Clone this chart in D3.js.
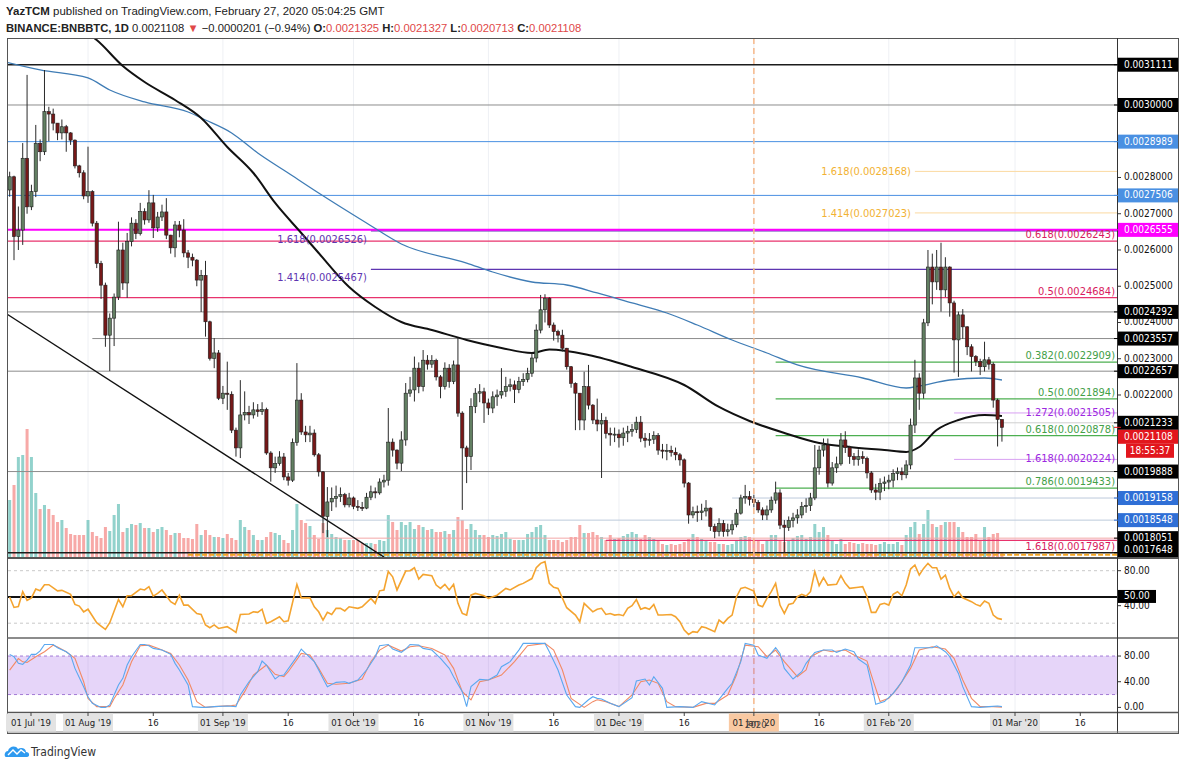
<!DOCTYPE html>
<html>
<head>
<meta charset="utf-8">
<script src="https://cdn.jsdelivr.net/npm/d3@7"></script>
<style>
body{margin:0;background:#fff;}
svg text{font-family:"Liberation Sans Narrow","DejaVu Sans Condensed","Liberation Sans",Arial,sans-serif;}
svg text.hd{font-family:"Liberation Sans",Arial,sans-serif;}
</style>
</head>
<body>
<svg id="chart" width="1180" height="768"></svg>
<script>
// daily candles BNBBTC, first candle 2019-07-14, prices in 1e-7 BTC, open = previous close
var startDate = "2019-07-14";
var firstOpen = 27655;
var closes = [28020,26370,26550,28530,27190,27610,28940,28710,29815,29750,29500,29230,29400,29230,29030,28320,28130,27490,27610,26740,
25630,25030,23650,24120,24700,26000,25090,26230,26740,26450,27060,26830,27300,26610,26910,27050,26410,26060,26690,26550,
25920,25800,25720,25170,25300,24020,23010,23160,21910,22050,22020,21030,20540,21450,21520,21450,21590,21540,21600,20400,
19990,20110,20290,19740,19650,20690,21860,20980,20900,20950,20350,19880,18650,19050,19150,19200,19250,18970,19160,18930,
18900,18880,19180,19330,19300,19600,19650,20700,20480,20120,20760,22050,22140,22740,22230,22960,22850,22950,22500,22230,
22740,22370,22830,21500,20540,20300,21680,22050,22090,21780,21640,21950,22000,22100,22230,22280,22150,22370,22430,22600,
23020,23790,24350,24670,23930,23750,23650,23290,22780,22320,22050,21310,22230,21720,21310,21200,21300,20940,20900,20920,
20820,20950,21000,21050,21250,20810,20750,20780,20880,20480,20450,20470,20420,20350,20210,19570,18690,18780,18760,18800,
18880,18370,18230,18460,18230,18280,18420,18740,19160,19200,19120,19030,18830,18690,18830,19100,19300,18410,18350,18540,
18610,18690,18920,18950,19160,19990,20480,20620,19570,19990,20100,20760,20550,20300,20220,20300,20250,19850,19380,19320,
19560,19600,19650,19830,19880,19800,20070,21170,22470,22050,23990,25530,25120,25530,24900,25530,24540,23520,24210,23880,
23330,23060,22920,22780,22970,22850,21860,21325,21108];
var highs = [28160,28050,27200,28950,30830,27800,29450,29050,30965,29950,29900,29500,29600,29450,29250,29050,28350,28200,28850,27650,
26800,25700,25100,24250,24800,26780,26200,26470,26900,26850,27300,27150,27650,27520,27050,27250,27430,26420,26800,26800,
26850,26000,25900,25750,25450,25700,24050,23570,23240,22250,22920,22100,21100,22410,22100,21700,21800,21750,21800,21650,
20450,20300,20450,20400,19850,20800,22880,22050,21150,21150,21050,20400,19900,19460,19450,19500,19450,19300,19300,19200,
19100,19050,19300,19500,19450,19700,19800,21640,20800,20500,21000,22330,22500,23060,22900,23240,23100,23100,23000,22550,
22900,22850,22950,23570,21550,20600,21910,22190,22300,22200,21900,22100,22150,22740,22500,22450,22400,22500,22600,22750,
23150,23950,24760,24780,24700,24000,23800,23800,23300,22800,22350,22050,22640,22830,21750,21900,21500,21400,21100,21100,
21050,21100,21150,21200,21400,21420,20950,20950,21000,20950,20650,20650,20600,20550,20400,20250,19600,18920,18950,19000,
19100,18900,18450,18600,18550,18450,18550,18850,19250,19520,19350,19250,19100,18900,18950,19200,19610,19400,18550,18650,
18750,18850,19050,19150,19300,20620,20600,20800,20800,20150,20300,20950,21000,20600,20400,20500,20450,20300,19900,19550,
19700,19750,19800,19950,20000,20000,20200,21350,22970,22600,24100,26000,25900,26000,26200,25800,25550,24600,24300,24370,
23900,23400,23100,23000,23470,23050,22900,21900,21327];
var lows = [27470,25720,26000,26140,27000,27100,27460,28450,28620,29000,29300,29030,29050,28710,28900,28250,28000,27400,27300,26650,
25500,24650,23330,22660,23350,24620,24900,24680,26100,26300,26400,26700,26750,26330,26500,26800,26300,25900,25800,26350,
25800,25500,25550,25000,24290,23610,22950,22740,21860,21750,21590,20950,20300,20260,21300,21200,21350,21400,21450,20350,
19610,19850,20050,19650,19500,19600,20600,20900,20700,20700,20300,19750,18190,18080,18800,18900,19050,18900,18900,18850,
18800,18800,18850,19100,19150,19250,19450,19500,20300,19950,19900,20600,21950,21820,22050,22100,22700,22750,22400,21910,
22150,22200,22300,21400,18830,19570,19930,21500,21800,21230,21450,21500,21700,21900,21950,22100,21780,22050,22250,22350,
22500,22900,23700,24000,23850,23500,23450,23200,22700,22200,21030,21030,21030,21600,21200,21000,19710,20800,20600,20700,
20550,20600,20700,20850,20950,20700,20550,20600,20650,20350,20250,20200,20300,20200,20050,19450,18450,18600,18500,18550,
18650,18250,18050,18100,18090,18100,18150,18350,18700,19000,18950,18900,18750,18550,18550,18750,19000,18300,17650,18250,
18350,18450,18600,18750,18800,19100,19800,20300,19450,19500,19850,20050,20400,20100,20050,20050,20100,19700,19300,19100,
19100,19350,19400,19450,19650,19650,19700,19950,20950,21590,21900,23900,24500,24900,24300,24700,24160,22620,22500,23550,
23100,22650,22800,22550,22650,22700,21650,20580,20713];
var volumes = [570,720,1000,1020,1280,1000,640,480,520,480,420,350,370,290,230,220,220,220,370,250,
210,190,300,260,420,530,250,290,330,320,340,290,290,250,280,300,270,220,240,240,
190,190,180,330,220,270,220,200,200,190,230,190,170,370,300,270,220,170,170,200,
250,240,220,170,140,270,530,370,340,310,220,180,340,270,230,200,190,170,170,170,
170,140,140,140,130,170,160,420,350,270,350,320,350,280,320,300,270,280,250,250,
260,230,270,400,370,280,330,270,220,220,200,220,210,230,250,180,170,170,170,230,
250,300,320,220,170,170,170,150,170,200,200,320,240,240,250,220,200,170,220,180,
190,210,230,250,230,180,220,200,180,170,130,120,130,120,130,150,180,230,200,180,
160,150,150,130,130,120,130,170,200,210,200,170,160,130,170,220,220,170,150,170,
190,210,220,180,200,330,250,300,220,170,130,180,130,150,140,130,140,130,130,120,
130,150,130,130,150,120,220,300,350,230,330,470,330,300,320,350,350,350,300,250,
200,200,230,170,300,200,230,240,50];

// moving averages [date, price 1e-7]
var maBlack = [["2019-07-30",32124],["2019-08-03",31793],["2019-08-09",31076],["2019-08-14",30634],["2019-08-21",30138],["2019-08-27",29641],
["2019-09-02",28841],["2019-09-08",28124],["2019-09-13",27297],["2019-09-19",26469],["2019-09-23",25917],["2019-09-30",24979],
["2019-10-06",24428],["2019-10-12",24014],["2019-10-19",23793],["2019-10-27",23517],["2019-11-04",23297],["2019-11-11",23159],
["2019-11-15",23255],["2019-11-24",23103],["2019-12-04",22772],["2019-12-16",22276],["2019-12-24",21669],["2019-12-31",21283],
["2020-01-08",20952],["2020-01-16",20676],["2020-01-23",20566],["2020-01-31",20483],["2020-02-05",20428],["2020-02-08",20566],
["2020-02-12",21034],["2020-02-17",21310],["2020-02-23",21448],["2020-02-27",21420]];
var maBlue = [["2019-07-13",31186],["2019-07-21",30966],["2019-08-01",30745],["2019-08-06",30414],["2019-08-14",30083],["2019-08-24",29807],
["2019-08-28",29586],["2019-09-03",29228],["2019-09-09",28676],["2019-09-16",28124],["2019-09-23",27572],["2019-10-04",26745],
["2019-10-12",26166],["2019-10-27",25641],["2019-11-02",25393],["2019-11-11",25117],["2019-11-19",25034],["2019-11-26",24814],
["2019-12-04",24538],["2019-12-12",24262],["2019-12-19",23931],["2019-12-27",23517],["2020-01-04",23159],["2020-01-11",22828],
["2020-01-26",22469],["2020-02-05",22193],["2020-02-08",22248],["2020-02-15",22414],["2020-02-23",22469],["2020-02-27",22414]];

// indicators [candle index, value]
var rsi = [[0,50],[1,38],[2,39],[3,56],[4,46],[5,49],[6,59],[7,57],[8,64],[9,64],[11,57],[12,57.5],[14,53],[15,41.5],[16,39.6],[17,33],[18,36],
[20,20.6],[21,16.7],[22,12.9],[23,20.6],[25,47],[26,38.8],[27,51.4],[28,51.4],[30,59],[31,58],[32,61.7],[33,51],[34,54],[35,58],[37,44.6],
[38,41.5],[39,52],[40,40.7],[41,40.7],[43,31],[44,30],[45,18],[46,14.8],[47,18],[48,14],[50,16],[51,12.9],[52,9.5],[53,30],[55,30.5],
[56,33],[57,32.4],[58,36],[59,19.8],[60,21.7],[62,27.4],[63,21.7],[64,22.8],[66,64.4],[67,49],[69,49],[70,38.8],[71,33],[72,23.6],
[73,32.4],[74,30],[75,37],[76,37],[77,34],[78,38.8],[80,37],[81,38.8],[83,48.4],[84,42.7],[85,57],[86,58],[87,79],[88,73],[89,58],
[91,79.6],[92,80],[93,83.4],[94,70.5],[95,75.8],[97,74.3],[98,63.6],[99,59.8],[100,64.4],[101,58],[102,64.4],[103,42.7],[104,31.2],
[105,29.3],[106,52],[107,54],[109,51.4],[110,48.4],[112,52],[114,59.8],[115,58],[117,63.6],[118,65.5],[120,71],[121,83.4],[122,88.4],
[123,90.3],[124,65.5],[125,61],[126,59.8],[128,37.7],[130,29.3],[131,21.7],[132,42.7],[134,33],[135,36],[136,37],[137,30],[138,31],
[139,29.3],[140,30],[141,28.6],[142,37],[143,40],[144,47],[145,36],[146,37.7],[147,36],[148,41.5],[149,29.3],[150,29.3],[152,30],
[153,27.4],[154,21.7],[155,12.2],[156,7.2],[157,10.3],[158,9.5],[159,16],[160,14.8],[162,10.3],[163,23.6],[164,19.8],[165,25.5],
[166,29.3],[167,50],[168,59.8],[169,61],[171,56.8],[172,40.7],[173,38.8],[174,48.4],[175,56],[176,65.5],[177,40.7],[178,31.2],
[179,41.5],[180,42.7],[181,50.3],[182,53],[183,51],[184,56],[185,79],[186,62.8],[187,72],[188,63.6],[190,64.4],[191,74.3],[192,65.5],
[193,59.8],[195,61],[196,61.7],[197,50.3],[198,32.4],[199,32.4],[200,41.5],[201,42.7],[202,40.7],[203,53],[204,56],[205,51.4],
[206,63.6],[207,81.9],[208,86.5],[209,75],[210,82.6],[211,88.4],[212,83.4],[213,83.4],[214,70.5],[215,75],[216,59.8],[217,50.3],
[218,56],[219,49],[221,44.6],[222,41.5],[223,39.6],[224,45.3],[225,42.7],[226,29.3],[227,25.5],[228,24.4]];
var stochK = [[0,82.6],[1,79],[2,68.6],[3,67],[4,73.8],[5,82.6],[6,82.6],[7,88],[8,98],[10,98],[11,93],[13,86.7],[14,81.6],[15,60.8],
[17,32.3],[18,16.7],[19,6.3],[21,0],[22,0],[23,3.8],[25,34.9],[26,45.2],[27,66],[28,79],[30,98],[31,98],[32,96],[33,91.9],[35,89.3],
[37,82.6],[38,68.6],[39,58.2],[41,34.9],[42,1.2],[44,0],[45,0],[47,1.2],[50,2.2],[52,1.2],[53,19.3],[55,40],[57,55.6],[58,72.2],
[59,66],[61,44.2],[62,49.4],[63,50.4],[66,79],[67,90.9],[68,84.1],[70,71.2],[71,58.2],[72,45.2],[73,32.3],[75,39],[77,40],[78,37.5],
[80,42.6],[82,58.2],[84,79],[85,96],[87,98],[88,90.9],[90,85.7],[91,90.9],[92,98],[94,97],[95,91.9],[97,89.3],[99,76.4],[101,60.8],
[102,47.8],[104,24.5],[105,1.2],[106,32.3],[108,43.7],[110,42.6],[112,50.4],[113,63.4],[115,71.2],[117,89.3],[118,99.7],[120,99.7],
[123,99.7],[124,86.7],[126,58.2],[128,19.3],[130,1.2],[131,0],[133,11.9],[134,16.7],[135,14.1],[136,13],[138,6.3],[140,1.2],[143,15.1],
[144,41.1],[146,44.2],[147,34.9],[148,47.8],[150,29.7],[151,0],[154,1.2],[157,0],[159,9],[162,3.8],[165,29.7],[166,37.5],[168,71.2],
[169,99.7],[171,97],[172,81.6],[174,76.4],[176,93],[177,84.1],[178,60.8],[180,44.2],[182,55.6],[183,68.6],[185,85.7],[187,89.3],
[189,89.3],[190,85.7],[192,90.9],[194,86.7],[195,75.3],[197,66],[198,37.5],[199,4.8],[201,9],[203,21.9],[205,40],[207,66],[208,93],
[212,93],[213,96],[215,86.7],[216,79],[218,53],[219,32.3],[221,1.2],[223,0],[225,1.2],[227,2.2],[228,1.2]];
var stochD = [[0,58],[2,76],[3,71],[4,70],[6,79],[8,86.7],[10,97],[11,94],[13,86.7],[15,76.4],[17,40],[18,14],[20,1.2],[23,1.2],[24,14],
[26,35],[28,71],[30,96],[32,97],[34,92],[37,84],[39,66],[41,42.6],[43,9],[45,0],[47,1.2],[51,2.7],[52,3.8],[54,24.5],[56,50.4],[59,66],
[61,51.5],[63,47.8],[64,55.6],[67,84.1],[69,81.6],[71,60.8],[73,37.5],[75,36],[78,37.5],[81,44.2],[83,71.2],[85,89.3],[87,97],[90,87.8],
[92,94.5],[94,96],[97,91.9],[100,81.6],[102,60.8],[104,24.5],[106,11.6],[108,40],[110,42.6],[113,50.4],[116,71.2],[119,96],[123,99.7],
[125,89.3],[127,58.2],[129,14.1],[132,0],[134,9],[135,11.9],[137,9],[140,1.2],[143,19.3],[145,40],[147,42.6],[149,37.5],[151,9],
[153,1.2],[157,0],[160,6.3],[162,6.3],[165,19.3],[167,50.4],[169,97],[172,94.5],[174,79],[176,89.3],[178,71.2],[181,47.8],[183,58.2],
[184,79],[187,89.3],[189,86.7],[192,89.3],[194,81.6],[197,72.2],[198,50.4],[200,9],[202,14.1],[204,29.7],[207,60.8],[209,89.3],
[212,94.5],[215,90.9],[217,76.4],[219,42.6],[221,14.1],[223,1.2],[226,1.2],[228,0.5]];

// drawn horizontal levels [price, start date, kind]
var levels = [[0.0031111,"2019-07-01","heavy"],[0.0030000,"2019-07-01","gray"],[0.0028989,"2019-07-01","blue"],
[0.0028168,"2020-02-07","fibOrange"],[0.0027506,"2019-07-01","blue"],[0.0027023,"2020-02-07","fibOrange"],
[0.0026526,"2019-10-05","fibPurple"],[0.0026555,"2019-07-01","magenta"],[0.0026243,"2019-07-01","fibRed"],
[0.0025467,"2019-10-05","fibPurple"],[0.0024684,"2019-07-01","fibRed"],[0.0024292,"2019-07-01","gray"],
[0.0023557,"2019-08-02","gray"],[0.0022909,"2020-01-06","fibGreen"],[0.0022657,"2019-07-01","gray"],
[0.0021894,"2020-01-06","fibGreen"],[0.0021505,"2020-02-16","fibViolet"],[0.0021233,"2019-11-28","faint"],
[0.0020878,"2020-01-06","fibGreen"],[0.0020224,"2020-02-16","fibViolet"],[0.0019888,"2019-07-01","gray"],
[0.0019433,"2020-01-06","fibGreen"],[0.0019158,"2019-12-27","faintBlue"],[0.0018548,"2019-09-20","faintBlue"],
[0.0018051,"2019-09-20","faintRed"],[0.0017987,"2019-11-28","fibRed"],[0.0017648,"2019-07-01","heavy"],
[0.0017590,"2019-08-24","orangeBase"]];
var fibLabels = [["1.618",0.0028168,"fibOrange"],["1.414",0.0027023,"fibOrange"],["1.618",0.0026526,"fibPurple"],
["1.414",0.0025467,"fibPurple"],["0.618",0.0026243,"fibRed"],["0.5",0.0024684,"fibRed"],["0.382",0.0022909,"fibGreen"],
["0.5",0.0021894,"fibGreen"],["1.272",0.0021505,"fibViolet"],["0.618",0.0020878,"fibGreen"],["1.618",0.0020224,"fibViolet"],
["0.786",0.0019433,"fibGreen"],["1.618",0.0017987,"fibRed"]];
var trendLine = [["2019-07-13",0.0024262],["2019-10-08",0.0017531]];
var sessionBreak = "2020-01-01";

var priceTicks = [0.0018,0.0019,0.0020,0.0021,0.0022,0.0023,0.0024,0.0025,0.0026,0.0027,0.0028,0.0029,0.0030,0.0031];
var axisBoxes = [[0.0031111,"black"],[0.0030000,"black"],[0.0028989,"blue"],[0.0027506,"blue"],[0.0026555,"magenta"],
[0.0024292,"black"],[0.0023557,"black"],[0.0022657,"black"],[0.0021233,"black"],[0.0021108,"last"],[0.0019888,"black"],
[0.0019158,"blue2"],[0.0018548,"blue2"],[0.0018051,"black"],[0.0017648,"black"]];
var countdown = "18:55:37";
var rsiTicks = [80, 40], rsiBands = [80, 20], rsiMid = 50;
var stochTicks = [80, 40, 0], stochBands = [80, 20];
var timeTicks = [["2019-07-01","01 Jul '19"],["2019-08-01","01 Aug '19"],["2019-08-16","16"],["2019-09-01","01 Sep '19"],
["2019-09-16","16"],["2019-10-01","01 Oct '19"],["2019-10-16","16"],["2019-11-01","01 Nov '19"],["2019-11-16","16"],
["2019-12-01","01 Dec '19"],["2019-12-16","16"],["2020-01-01","01 Jan '20"],["2020-01-16","16"],["2020-02-01","01 Feb '20"],
["2020-03-01","01 Mar '20"],["2020-03-16","16"]];
var ohlc = {o:"0.0021325", h:"0.0021327", l:"0.0020713", c:"0.0021108"};

// ---- layout
var L = 8, AX = 1117, RE = 1178;
var pTop = 38, pBot = 557, rTop = 558, rBot = 638, sTop = 638, sBot = 712, tBot = 733;
var parse = d3.utcParse("%Y-%m-%d");
var t0 = parse(startDate);
var dayAt = function(i){ return d3.utcDay.offset(t0, i); };

var x = d3.scaleUtc().domain([parse("2019-08-01"), parse("2020-03-01")]).range([88, 1015]);
var y = d3.scaleLinear().domain([0.0017531, 0.0031848]).range([pBot, pTop]);
var yVol = d3.scaleLinear().domain([0, 1300]).range([pBot, pBot - 130]);
var yRsi = d3.scaleLinear().domain([0, 100]).range([640.7, 553.2]);
var ySto = d3.scaleLinear().domain([0, 100]).range([707.4, 643.2]);
var U = 1e-7;

var styles = {
  heavy:{stroke:"#1c1c1c", w:1.6}, gray:{stroke:"#8c8c8c", w:1}, blue:{stroke:"#4a90e2", w:1},
  magenta:{stroke:"#ff00ff", w:2}, fibRed:{stroke:"#e8336d", w:1.3, text:"#d81b60", dy:-6},
  fibPurple:{stroke:"#5e35b1", w:1.2, text:"#5e35b1", dy:9, left:true},
  fibOrange:{stroke:"#fbd9a0", w:1, text:"#f2b233", dy:1, left:true},
  fibGreen:{stroke:"#4caf50", w:1.2, text:"#43a047", dy:-6}, fibViolet:{stroke:"#d8a0f2", w:1, text:"#9c27e0", dy:0},
  faint:{stroke:"#cfcfcf", w:1}, faintBlue:{stroke:"#bccadb", w:1}, faintRed:{stroke:"#f3a7a7", w:1},
  orangeBase:{stroke:"#f5a623", w:2}
};
var boxFill = {black:"#000", blue:"#4a90e2", blue2:"#2f6fd6", magenta:"#ff00ff", last:"#e2161d"};

var svg = d3.select("#chart");
svg.append("rect").attr("width", 1180).attr("height", 768).attr("fill", "#fff");
var defs = svg.append("defs");
function clip(id, y0, y1){
  defs.append("clipPath").attr("id", id).append("rect")
    .attr("x", L).attr("y", y0).attr("width", AX - L).attr("height", y1 - y0);
}
clip("cp", pTop, pBot); clip("cr", rTop + 1, rBot); clip("cs", sTop + 1, sBot);

// header, font size fitted to the published snapshot's line widths
function fitText(t, size, width){
  t.attr("font-size", size);
  var w = t.node().getComputedTextLength();
  t.attr("font-size", size * width / w);
}
var hd = svg.append("g").attr("fill", "#222");
var h1 = hd.append("text").attr("class", "hd").attr("x", 6).attr("y", 15);
h1.append("tspan").attr("font-weight", "bold").text("YazTCM");
h1.append("tspan").text(" published on TradingView.com, February 27, 2020 05:04:25 GMT");
fitText(h1, 12, 379);
var h2 = hd.append("text").attr("class", "hd").attr("x", 6).attr("y", 32);
h2.append("tspan").attr("font-weight", "bold").text("BINANCE:BNBBTC, 1D");
h2.append("tspan").text(" " + ohlc.c + " ");
h2.append("tspan").attr("fill", "#e04848").text("\u25BC");
h2.append("tspan").text(" \u22120.0000201 (\u22120.94%) ");
[["O:", ohlc.o], ["H:", ohlc.h], ["L:", ohlc.l], ["C:", ohlc.c]].forEach(function(p, i){
  h2.append("tspan").attr("font-weight", "bold").text(p[0]);
  h2.append("tspan").attr("fill", "#e04848").text(p[1] + (i < 3 ? " " : ""));
});
fitText(h2, 11.5, 576);

// month grid
var months = timeTicks.filter(function(t){ return t[1].length > 2; }).map(function(t){ return x(parse(t[0])); })
  .filter(function(v){ return v > L && v < AX; });
[[pTop, pBot], [rTop, rBot], [sTop, sBot]].forEach(function(r){
  svg.append("g").selectAll("line").data(months).enter().append("line")
    .attr("x1", function(d){ return d; }).attr("x2", function(d){ return d; })
    .attr("y1", r[0]).attr("y2", r[1]).attr("stroke", "#eef0f4");
});

// price pane
var gp = svg.append("g").attr("clip-path", "url(#cp)");
var candles = closes.map(function(c, i){
  var o = i === 0 ? firstOpen : closes[i - 1];
  return {d: dayAt(i), o: o * U, c: c * U, h: Math.max(highs[i], o, c) * U, l: Math.min(lows[i], o, c) * U, v: volumes[i]};
});
gp.selectAll("rect.vol").data(candles).enter().append("rect")
  .attr("x", function(d){ return x(d.d) - 1.5; }).attr("width", 3)
  .attr("y", function(d){ return yVol(d.v); }).attr("height", function(d){ return pBot - yVol(d.v); })
  .attr("fill", function(d){ return d.c >= d.o ? "rgba(38,166,154,0.5)" : "rgba(239,83,80,0.5)"; });

gp.selectAll("line.lvl").data(levels).enter().append("line")
  .attr("x1", function(d){ return Math.max(L, x(parse(d[1]))); }).attr("x2", AX)
  .attr("y1", function(d){ return y(d[0]); }).attr("y2", function(d){ return y(d[0]); })
  .attr("stroke", function(d){ return styles[d[2]].stroke; })
  .attr("stroke-width", function(d){ return styles[d[2]].w; })
  .attr("stroke-dasharray", function(d){ return d[2] === "orangeBase" ? "5,2" : null; });

gp.append("line")
  .attr("x1", x(parse(trendLine[0][0]))).attr("y1", y(trendLine[0][1]))
  .attr("x2", x(parse(trendLine[1][0]))).attr("y2", y(trendLine[1][1]))
  .attr("stroke", "#111").attr("stroke-width", 1.4);

var maLine = d3.line().x(function(d){ return x(parse(d[0])); }).y(function(d){ return y(d[1] * U); }).curve(d3.curveMonotoneX);
gp.append("path").attr("d", maLine(maBlue)).attr("fill", "none").attr("stroke", "#3f7cb5").attr("stroke-width", 1.3);
gp.append("path").attr("d", maLine(maBlack)).attr("fill", "none").attr("stroke", "#111").attr("stroke-width", 2);

var cg = gp.selectAll("g.c").data(candles).enter().append("g");
cg.append("line").attr("x1", function(d){ return x(d.d); }).attr("x2", function(d){ return x(d.d); })
  .attr("y1", function(d){ return y(d.h); }).attr("y2", function(d){ return y(d.l); })
  .attr("stroke", "#2a2a2a").attr("stroke-width", 1);
cg.append("rect").attr("x", function(d){ return x(d.d) - 1.6; }).attr("width", 3.2)
  .attr("y", function(d){ return y(Math.max(d.o, d.c)); })
  .attr("height", function(d){ return Math.max(1, Math.abs(y(d.o) - y(d.c))); })
  .attr("fill", function(d){ return d.c >= d.o ? "#627f62" : "#761818"; })
  .attr("stroke", "#1e1e1e").attr("stroke-width", 0.6);

// fib labels
var lvStart = {};
levels.forEach(function(l){ lvStart[l[0]] = x(parse(l[1])); });
gp.selectAll("text.fib").data(fibLabels).enter().append("text")
  .attr("font-size", 11)
  .attr("fill", function(d){ return styles[d[2]].text; })
  .attr("text-anchor", "end")
  .attr("dominant-baseline", "middle")
  .attr("x", function(d){ return styles[d[2]].left ? lvStart[d[1]] - 4 : AX - 2; })
  .attr("y", function(d){ return y(d[1]) + (d[1] < 0.0018 ? 7 : styles[d[2]].dy); })
  .text(function(d){ return d[0] + "(" + d[1].toFixed(7) + ")"; });

// session break
svg.append("line").attr("x1", x(parse(sessionBreak))).attr("x2", x(parse(sessionBreak)))
  .attr("y1", pTop).attr("y2", sBot).attr("stroke", "#f6b88a").attr("stroke-width", 1.5).attr("stroke-dasharray", "6,4");

// RSI pane
var gr = svg.append("g").attr("clip-path", "url(#cr)");
gr.selectAll("line.b").data(rsiBands).enter().append("line").attr("x1", L).attr("x2", AX)
  .attr("y1", function(d){ return yRsi(d); }).attr("y2", function(d){ return yRsi(d); })
  .attr("stroke", "#c9c9c9").attr("stroke-dasharray", "3,3");
gr.append("line").attr("x1", L).attr("x2", AX).attr("y1", yRsi(rsiMid)).attr("y2", yRsi(rsiMid))
  .attr("stroke", "#111").attr("stroke-width", 2);
var idxLine = function(sc){ return d3.line().x(function(d){ return x(dayAt(d[0])); }).y(function(d){ return sc(d[1]); }); };
gr.append("path").attr("d", idxLine(yRsi)(rsi)).attr("fill", "none").attr("stroke", "#f4a430").attr("stroke-width", 1.6);

// Stoch RSI pane
var gs = svg.append("g").attr("clip-path", "url(#cs)");
gs.append("rect").attr("x", L).attr("width", AX - L).attr("y", ySto(stochBands[0]))
  .attr("height", ySto(stochBands[1]) - ySto(stochBands[0])).attr("fill", "rgba(149,80,230,0.24)");
gs.selectAll("line.b").data(stochBands).enter().append("line").attr("x1", L).attr("x2", AX)
  .attr("y1", function(d){ return ySto(d); }).attr("y2", function(d){ return ySto(d); })
  .attr("stroke", "#a27ad6").attr("stroke-dasharray", "3,3");
gs.append("path").attr("d", idxLine(ySto)(stochD)).attr("fill", "none").attr("stroke", "#f28a65").attr("stroke-width", 1.1);
gs.append("path").attr("d", idxLine(ySto)(stochK)).attr("fill", "none").attr("stroke", "#5aa8f0").attr("stroke-width", 1.1);

// frame
var fr = svg.append("g").attr("fill", "none");
fr.append("rect").attr("x", 7.5).attr("y", pTop + 0.5).attr("width", RE - 7).attr("height", tBot - pTop).attr("stroke", "#555");
fr.append("line").attr("x1", 7).attr("x2", RE).attr("y1", rTop).attr("y2", rTop).attr("stroke", "#555").attr("stroke-width", 2);
fr.append("line").attr("x1", 7).attr("x2", RE).attr("y1", rBot).attr("y2", rBot).attr("stroke", "#666").attr("stroke-width", 1.5);
fr.append("line").attr("x1", 7).attr("x2", RE).attr("y1", sBot + 0.5).attr("y2", sBot + 0.5).attr("stroke", "#555").attr("stroke-width", 1.5);
fr.append("line").attr("x1", AX + 0.5).attr("x2", AX + 0.5).attr("y1", pTop).attr("y2", tBot).attr("stroke", "#333");
fr.append("line").attr("x1", 7).attr("x2", RE).attr("y1", tBot - 1).attr("y2", tBot - 1).attr("stroke", "#888");

// price axis: boxes first computed so plain ticks hidden behind them are skipped
var ga = svg.append("g").attr("font-size", 10);
var bh = 14, prevBottom = -1e9;
var boxes = axisBoxes.map(function(b){
  var hgt = b[1] === "last" ? bh * 2 : bh;
  var cy = Math.max(y(b[0]), prevBottom + bh / 2);
  cy = Math.min(cy, pBot - hgt + bh / 2);
  prevBottom = cy - bh / 2 + hgt;
  return {p: b[0], kind: b[1], cy: cy, h: hgt};
});
var freeTicks = priceTicks.filter(function(t){
  var ty = y(t);
  return boxes.every(function(b){ return ty < b.cy - bh / 2 - 4 || ty > b.cy - bh / 2 + b.h + 3; });
});
var tk = ga.selectAll("g.t").data(freeTicks).enter().append("g");
tk.append("line").attr("x1", AX).attr("x2", AX + 4).attr("y1", function(d){ return y(d); }).attr("y2", function(d){ return y(d); }).attr("stroke", "#333");
tk.append("text").attr("x", AX + 7).attr("y", function(d){ return y(d); }).attr("dominant-baseline", "middle")
  .attr("fill", "#111").text(function(d){ return d.toFixed(7); });

var bx = ga.selectAll("g.b").data(boxes).enter().append("g");
bx.append("line").attr("x1", AX - 3).attr("x2", AX + 4).attr("y1", function(d){ return y(d.p); }).attr("y2", function(d){ return y(d.p); })
  .attr("stroke", function(d){ return boxFill[d.kind]; });
bx.append("rect").attr("x", AX + 1).attr("width", RE - AX - 1).attr("y", function(d){ return d.cy - bh / 2; }).attr("height", bh)
  .attr("fill", function(d){ return boxFill[d.kind]; });
bx.append("text").attr("x", AX + 7).attr("y", function(d){ return d.cy; }).attr("dominant-baseline", "middle")
  .attr("fill", "#fff").text(function(d){ return d.p.toFixed(7); });
var lastBox = boxes.filter(function(b){ return b.kind === "last"; })[0];
ga.append("rect").attr("x", AX + 9).attr("width", 48).attr("y", lastBox.cy + bh / 2).attr("height", bh).attr("fill", boxFill.last);
ga.append("text").attr("x", AX + 33).attr("y", lastBox.cy + bh).attr("text-anchor", "middle").attr("dominant-baseline", "middle")
  .attr("fill", "#fff").text(countdown);

// rsi / stoch axes
function paneAxis(ticks, sc){
  ticks.forEach(function(v){
    ga.append("line").attr("x1", AX).attr("x2", AX + 4).attr("y1", sc(v)).attr("y2", sc(v)).attr("stroke", "#333");
    ga.append("text").attr("x", AX + 7).attr("y", sc(v)).attr("dominant-baseline", "middle").attr("fill", "#111").text(v.toFixed(2));
  });
}
paneAxis(rsiTicks, yRsi);
paneAxis(stochTicks, ySto);
ga.append("rect").attr("x", AX + 1).attr("width", 38).attr("y", yRsi(rsiMid) - 7).attr("height", 13).attr("fill", "#000");
ga.append("text").attr("x", AX + 7).attr("y", yRsi(rsiMid) - 0.5).attr("dominant-baseline", "middle").attr("fill", "#fff").text(rsiMid.toFixed(2));

// time axis
var gt = svg.append("g").attr("font-size", 9.5).attr("text-anchor", "middle");
timeTicks.forEach(function(t){
  var d = parse(t[0]), cx = Math.max(x(d), 31), isMonth = t[1].length > 2;
  var brk = t[0] === sessionBreak;
  if (isMonth) gt.append("rect").attr("x", cx - 25).attr("y", sBot + 1.5).attr("width", 50).attr("height", 18)
    .attr("fill", brk ? "#f9c9a2" : "#e3e3e3");
  gt.append("line").attr("x1", cx).attr("x2", cx).attr("y1", sBot).attr("y2", sBot + 4).attr("stroke", "#444");
  gt.append("text").attr("x", cx).attr("y", sBot + 11).attr("dominant-baseline", "middle").attr("fill", "#222").text(t[1]);
  if (brk) gt.append("text").attr("x", cx + 2).attr("y", sBot + 13).attr("dominant-baseline", "middle").attr("fill", "#444").text("2020");
});

// logo
var lg = svg.append("g");
lg.append("path").attr("d", "M6 757 C4 757 4 751 8 751 C9 746 16 745 18 749 C21 747 26 748 26 752 C30 752 30 757 27 757 Z").attr("fill", "#2e9af0");
lg.append("path").attr("d", "M8 755 L13 750 L17 754 L21 750 L25 753").attr("fill", "none").attr("stroke", "#fff").attr("stroke-width", 1.4);
lg.append("text").attr("x", 31).attr("y", 752).attr("dominant-baseline", "middle").attr("font-size", 12).attr("fill", "#333").text("TradingView");
</script>
</body>
</html>
